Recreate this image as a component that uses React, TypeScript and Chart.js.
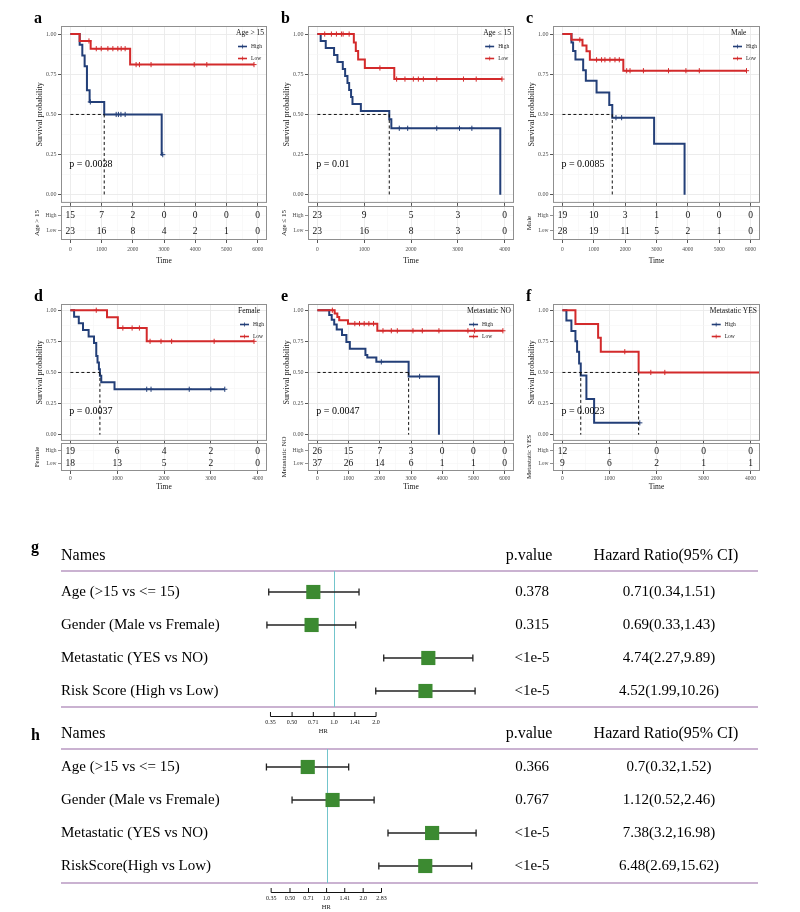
import React, { useEffect, useRef } from 'react';
import { Chart, registerables } from 'chart.js';

Chart.register(...registerables);

const SERIF = '"Liberation Serif", "Times New Roman", Times, serif';
const BLUE = '#233F78';
const RED = '#D32A2B';
const GREEN = '#3C8A31';
const TEAL = '#73C5CC';
const PURPLE = '#B899C2';
const GRID_MAJOR = '#EAEAEA';
const GRID_MINOR = '#F5F5F5';
const BORDER = '#8F8F8F';

// ---------- shared tick labels ----------
const X6000 = [0, 1000, 2000, 3000, 4000, 5000, 6000];
const X4000 = [0, 1000, 2000, 3000, 4000];
const Y_TICKS = [0, 0.25, 0.5, 0.75, 1];
const Y_TICK_LABELS = ['0.00', '0.25', '0.50', '0.75', '1.00'];
const RISK_ROWS = ['High', 'Low'];
const PVAL_Y = 0.19;

// ---------- a : Age > 15 ----------
const aHighTimes = [0, 298, 383, 457, 532, 617, 1085, 2926];
const aHighSurv = [1, 0.933, 0.867, 0.8, 0.65, 0.578, 0.5, 0.25];
const aHighCensor = [640, 1468, 1540, 1620, 1755, 2960];
const aLowTimes = [0, 298, 650, 1915];
const aLowSurv = [1, 0.957, 0.909, 0.81];
const aLowCensor = [596, 830, 989, 1202, 1362, 1521, 1628, 1755, 2106, 2213, 2585, 3968, 4372, 5883];
const aMedians = [1085];
const aRiskHigh = [15, 7, 2, 0, 0, 0, 0];
const aRiskLow = [23, 16, 8, 4, 2, 1, 0];

// ---------- b : Age <= 15 ----------
const bHighTimes = [0, 71, 179, 357, 429, 543, 593, 643, 679, 720, 750, 929, 1536, 1580, 3907];
const bHighSurv = [1, 0.957, 0.913, 0.87, 0.826, 0.783, 0.739, 0.696, 0.652, 0.609, 0.565, 0.522, 0.47, 0.414, 0];
const bHighCensor = [1750, 1929, 2550, 3036, 3300];
const bLowTimes = [0, 779, 821, 871, 1014, 1643];
const bLowSurv = [1, 0.947, 0.895, 0.842, 0.789, 0.72];
const bLowCensor = [157, 300, 407, 514, 550, 679, 1336, 1693, 1871, 2050, 2157, 2264, 2550, 3121, 3393, 3943];
const bMedians = [1536];
const bRiskHigh = [23, 9, 5, 3, 0];
const bRiskLow = [23, 16, 8, 3, 0];

// ---------- c : Male ----------
const cHighTimes = [0, 288, 341, 416, 662, 747, 1089, 1494, 1590, 2924, 3895];
const cHighSurv = [1, 0.947, 0.895, 0.842, 0.775, 0.709, 0.637, 0.558, 0.48, 0.318, 0];
const cHighCensor = [1708, 1889];
const cLowTimes = [0, 288, 640, 768, 875, 1942];
const cLowSurv = [1, 0.964, 0.929, 0.893, 0.84, 0.772];
const cLowCensor = [555, 1089, 1249, 1355, 1515, 1676, 1814, 2049, 2156, 2583, 3383, 3938, 4365, 5870];
const cMedians = [1590];
const cRiskHigh = [19, 10, 3, 1, 0, 0, 0];
const cRiskLow = [28, 19, 11, 5, 2, 1, 0];

// ---------- d : Female ----------
const dHighTimes = [0, 80, 180, 270, 390, 505, 553, 580, 610, 631, 660, 943];
const dHighSurv = [1, 0.947, 0.895, 0.842, 0.789, 0.737, 0.632, 0.579, 0.526, 0.474, 0.421, 0.365];
const dHighCensor = [1631, 1723, 2539, 3000, 3298];
const dLowTimes = [0, 783, 1014, 1631];
const dLowSurv = [1, 0.944, 0.857, 0.75];
const dLowCensor = [553, 1121, 1319, 1475, 1702, 1936, 2163, 3071, 3922];
const dMedians = [631];
const dRiskHigh = [19, 6, 4, 2, 0];
const dRiskLow = [18, 13, 5, 2, 0];

// ---------- e : Metastatic NO ----------
const eHighTimes = [0, 380, 460, 540, 620, 790, 930, 1040, 1540, 1600, 1890, 2924, 3895];
const eHighSurv = [1, 0.962, 0.923, 0.885, 0.846, 0.8, 0.745, 0.69, 0.64, 0.62, 0.585, 0.468, 0];
const eHighCensor = [2049, 3276];
const eLowTimes = [0, 555, 640, 700, 982, 1921];
const eLowSurv = [1, 0.973, 0.946, 0.919, 0.892, 0.835];
const eLowCensor = [480, 1200, 1350, 1500, 1650, 1800, 2102, 2369, 2561, 3063, 3362, 3895, 4824, 5037, 5944];
const eMedians = [2924];
const eRiskHigh = [26, 15, 7, 3, 0, 0, 0];
const eRiskLow = [37, 26, 14, 6, 1, 1, 0];

// ---------- f : Metastatic YES ----------
const fHighTimes = [0, 85, 191, 277, 312, 355, 390, 510, 674];
const fHighSurv = [1, 0.917, 0.833, 0.75, 0.667, 0.571, 0.476, 0.286, 0.095];
const fHighCensor = [1645];
const fLowTimes = [0, 277, 759, 816, 1620];
const fLowSurv = [1, 0.889, 0.778, 0.667, 0.5];
const fLowCensor = [1326, 1879, 2177, 4199];
const fMedians = [390, 1620];
const fRiskHigh = [12, 1, 0, 0, 0];
const fRiskLow = [9, 6, 2, 1, 1];

// ---------- g : univariate forest ----------
const gNames = ['Age (>15 vs <= 15)', 'Gender (Male vs Fremale)', 'Metastatic (YES vs NO)', 'Risk Score (High vs Low)'];
const gPValues = ['0.378', '0.315', '<1e-5', '<1e-5'];
const gHR = [0.71, 0.69, 4.74, 4.52];
const gLower = [0.34, 0.33, 2.27, 1.99];
const gUpper = [1.51, 1.43, 9.89, 10.26];
const gAxisTicks = [0.35, 0.5, 0.71, 1.0, 1.41, 2.0];
const gAxisLabels = ['0.35', '0.50', '0.71', '1.0', '1.41', '2.0'];

// ---------- h : multivariate forest ----------
const hNames = ['Age (>15 vs <= 15)', 'Gender (Male vs Fremale)', 'Metastatic (YES vs NO)', 'RiskScore(High vs Low)'];
const hPValues = ['0.366', '0.767', '<1e-5', '<1e-5'];
const hHR = [0.7, 1.12, 7.38, 6.48];
const hLower = [0.32, 0.52, 3.2, 2.69];
const hUpper = [1.52, 2.46, 16.98, 15.62];
const hAxisTicks = [0.35, 0.5, 0.71, 1.0, 1.41, 2.0, 2.83];
const hAxisLabels = ['0.35', '0.50', '0.71', '1.0', '1.41', '2.0', '2.83'];

// ---------- types / layout ----------
type Curve = { times: number[]; surv: number[]; censor: number[] };
type Panel = {
  letter: string; group: string; pval: string; xTicks: number[];
  high: Curve; low: Curve; medians: number[];
  riskHigh: number[]; riskLow: number[]; col: number; row: number;
};

const COLS = [{ l: 61, r: 267 }, { l: 308, r: 514 }, { l: 553, r: 760 }];
const ROWS = [
  { top: 26, bottom: 203, riskTop: 206, riskBottom: 240, labelPad: 3, timeDy: 21 },
  { top: 304, bottom: 441, riskTop: 443, riskBottom: 471, labelPad: 1, timeDy: 16 },
];

const PANELS: Panel[] = [
  { letter: 'a', group: 'Age > 15', pval: 'p = 0.0038', xTicks: X6000,
    high: { times: aHighTimes, surv: aHighSurv, censor: aHighCensor },
    low: { times: aLowTimes, surv: aLowSurv, censor: aLowCensor },
    medians: aMedians, riskHigh: aRiskHigh, riskLow: aRiskLow, col: 0, row: 0 },
  { letter: 'b', group: 'Age \u2264 15', pval: 'p = 0.01', xTicks: X4000,
    high: { times: bHighTimes, surv: bHighSurv, censor: bHighCensor },
    low: { times: bLowTimes, surv: bLowSurv, censor: bLowCensor },
    medians: bMedians, riskHigh: bRiskHigh, riskLow: bRiskLow, col: 1, row: 0 },
  { letter: 'c', group: 'Male', pval: 'p = 0.0085', xTicks: X6000,
    high: { times: cHighTimes, surv: cHighSurv, censor: cHighCensor },
    low: { times: cLowTimes, surv: cLowSurv, censor: cLowCensor },
    medians: cMedians, riskHigh: cRiskHigh, riskLow: cRiskLow, col: 2, row: 0 },
  { letter: 'd', group: 'Female', pval: 'p = 0.0037', xTicks: X4000,
    high: { times: dHighTimes, surv: dHighSurv, censor: dHighCensor },
    low: { times: dLowTimes, surv: dLowSurv, censor: dLowCensor },
    medians: dMedians, riskHigh: dRiskHigh, riskLow: dRiskLow, col: 0, row: 1 },
  { letter: 'e', group: 'Metastatic NO', pval: 'p = 0.0047', xTicks: X6000,
    high: { times: eHighTimes, surv: eHighSurv, censor: eHighCensor },
    low: { times: eLowTimes, surv: eLowSurv, censor: eLowCensor },
    medians: eMedians, riskHigh: eRiskHigh, riskLow: eRiskLow, col: 1, row: 1 },
  { letter: 'f', group: 'Metastatic YES', pval: 'p = 0.0023', xTicks: X4000,
    high: { times: fHighTimes, surv: fHighSurv, censor: fHighCensor },
    low: { times: fLowTimes, surv: fLowSurv, censor: fLowCensor },
    medians: fMedians, riskHigh: fRiskHigh, riskLow: fRiskLow, col: 2, row: 1 },
];

type Forest = {
  letter: string; names: string[]; pvals: string[]; hr: number[]; lo: number[]; hi: number[];
  ticks: number[]; tickLabels: string[];
  top: number; height: number; padTop: number; padBottom: number;
  xMin: number; xMax: number; yMin: number; yMax: number; letterDy: number;
};

const FOREST_G: Forest = {
  letter: 'g', names: gNames, pvals: gPValues, hr: gHR, lo: gLower, hi: gUpper,
  ticks: gAxisTicks, tickLabels: gAxisLabels,
  top: 540, height: 197, padTop: 31, padBottom: 30,
  xMin: 0.2116, xMax: 15.48, yMin: -0.636, yMax: 3.485, letterDy: -19,
};
const FOREST_H: Forest = {
  letter: 'h', names: hNames, pvals: hPValues, hr: hHR, lo: hLower, hi: hUpper,
  ticks: hAxisTicks, tickLabels: hAxisLabels,
  top: 715, height: 197, padTop: 34, padBottom: 29,
  xMin: 0.194, xMax: 26.7, yMin: -0.545, yMax: 3.515, letterDy: -9,
};

// ---------- helpers ----------
const midpoints = (a: number[]) => a.slice(1).map((v, i) => (v + a[i]) / 2);

function survAt(c: Curve, t: number) {
  let v = 1;
  for (let i = 0; i < c.times.length; i++) if (c.times[i] <= t) v = c.surv[i];
  return v;
}

function stepData(c: Curve) {
  const pts = c.times.map((t, i) => ({ x: t, y: c.surv[i] }));
  const lastT = c.times[c.times.length - 1];
  const end = Math.max(lastT, ...c.censor);
  if (end > lastT) pts.push({ x: end, y: c.surv[c.surv.length - 1] });
  return pts;
}

const lineDs = (c: Curve, color: string) => ({
  data: stepData(c), borderColor: color, borderWidth: 2, stepped: 'before', pointRadius: 0, fill: false,
});
const censorDs = (c: Curve, color: string) => ({
  data: c.censor.map((t) => ({ x: t, y: survAt(c, t) })), showLine: false,
  pointStyle: 'cross', pointRadius: 2.6, pointBorderWidth: 1,
  pointBorderColor: color, borderColor: color, backgroundColor: color,
});
const dashDs = (pts: { x: number; y: number }[]) => ({
  data: pts, borderColor: '#111', borderWidth: 1, borderDash: [3, 2.5], pointRadius: 0, fill: false,
});

function line(ctx: CanvasRenderingContext2D, x1: number, y1: number, x2: number, y2: number) {
  ctx.beginPath(); ctx.moveTo(x1, y1); ctx.lineTo(x2, y2); ctx.stroke();
}

function xScaleOpts(p: Panel, showLabels: boolean, height: number, labelPad: number) {
  const xMaxTick = p.xTicks[p.xTicks.length - 1];
  const all = [...p.xTicks, ...midpoints(p.xTicks)].sort((a, b) => a - b);
  const major = (v: any) => p.xTicks.includes(v);
  return {
    type: 'linear', min: -0.05 * xMaxTick, max: 1.05 * xMaxTick, bounds: 'data',
    afterBuildTicks: (s: any) => { s.ticks = all.map((v) => ({ value: v })); },
    afterFit: (s: any) => { s.height = height; },
    ticks: {
      display: showLabels, autoSkip: false, maxRotation: 0, padding: labelPad,
      font: { family: SERIF, size: 5.5 }, color: '#4d4d4d',
      callback: (v: any) => (major(v) ? String(v) : ''),
    },
    grid: {
      color: (c: any) => (c.tick && major(c.tick.value) ? GRID_MAJOR : GRID_MINOR),
      lineWidth: (c: any) => (c.tick && major(c.tick.value) ? 0.9 : 0.6),
      tickLength: 3,
      tickColor: (c: any) => (c.tick && major(c.tick.value) ? '#444' : 'rgba(0,0,0,0)'),
    },
    border: { display: false },
  };
}

function kmPlugin(p: Panel) {
  return {
    id: 'km-' + p.letter,
    afterDraw(chart: any) {
      const { ctx, chartArea: ca, scales } = chart;
      const x = scales.x, y = scales.y;
      ctx.save();
      ctx.strokeStyle = BORDER; ctx.lineWidth = 1;
      ctx.strokeRect(ca.left + 0.5, ca.top + 0.5, ca.right - ca.left - 1, ca.bottom - ca.top - 1);
      // y title
      ctx.save();
      ctx.translate(ca.left - 21, (ca.top + ca.bottom) / 2);
      ctx.rotate(-Math.PI / 2);
      ctx.font = `8px ${SERIF}`; ctx.fillStyle = '#1a1a1a';
      ctx.textAlign = 'center'; ctx.textBaseline = 'middle';
      ctx.fillText('Survival probability', 0, 0);
      ctx.restore();
      // panel letter
      ctx.font = `bold 16px ${SERIF}`; ctx.fillStyle = '#000';
      ctx.textAlign = 'left'; ctx.textBaseline = 'alphabetic';
      ctx.fillText(p.letter, ca.left - 27, ca.top - 3);
      // p value
      ctx.font = `10px ${SERIF}`; ctx.textBaseline = 'middle';
      ctx.fillText(p.pval, x.getPixelForValue(0) - 1, y.getPixelForValue(PVAL_Y));
      // legend
      ctx.font = `7.5px ${SERIF}`;
      const tw = ctx.measureText(p.group).width;
      ctx.font = `5.5px ${SERIF}`;
      const iw = 15 + ctx.measureText('High').width;
      const left = ca.right - 3 - Math.max(tw, iw);
      ctx.font = `7.5px ${SERIF}`; ctx.fillStyle = '#111';
      ctx.fillText(p.group, left, ca.top + 7.5);
      const items: [string, string, number][] = [[RISK_ROWS[0], BLUE, 20.5], [RISK_ROWS[1], RED, 32.5]];
      items.forEach(([lab, col, dy]) => {
        const yy = ca.top + dy;
        ctx.strokeStyle = col; ctx.lineWidth = 1.6;
        line(ctx, left + 2, yy, left + 11, yy);
        ctx.lineWidth = 0.8;
        line(ctx, left + 6.5, yy - 2, left + 6.5, yy + 2);
        ctx.font = `5.5px ${SERIF}`; ctx.fillStyle = '#222';
        ctx.fillText(lab, left + 15, yy);
      });
      ctx.restore();
    },
  };
}

function kmConfig(p: Panel): any {
  const maxMed = Math.max(...p.medians);
  const yAll = [...Y_TICKS, ...midpoints(Y_TICKS)].sort((a, b) => a - b);
  const majorY = (v: any) => Y_TICKS.includes(v);
  const datasets: any[] = [
    dashDs([{ x: 0, y: 0.5 }, { x: maxMed, y: 0.5 }]),
    ...p.medians.map((m) => dashDs([{ x: m, y: 0.5 }, { x: m, y: 0 }])),
    lineDs(p.low, RED), censorDs(p.low, RED),
    lineDs(p.high, BLUE), censorDs(p.high, BLUE),
  ];
  return {
    type: 'line',
    data: { datasets },
    options: {
      animation: false, responsive: false, events: [],
      layout: { padding: { left: 4, right: 6, top: 24, bottom: 1 } },
      plugins: { legend: { display: false }, tooltip: { enabled: false } },
      scales: {
        x: xScaleOpts(p, false, 4, 0),
        y: {
          type: 'linear', min: -0.05, max: 1.05, bounds: 'data',
          afterBuildTicks: (s: any) => { s.ticks = yAll.map((v) => ({ value: v })); },
          afterFit: (s: any) => { s.width = 40; },
          ticks: {
            autoSkip: false, padding: 1.5, font: { family: SERIF, size: 6 }, color: '#4d4d4d',
            callback: (v: any) => { const i = Y_TICKS.indexOf(v); return i >= 0 ? Y_TICK_LABELS[i] : ''; },
          },
          grid: {
            color: (c: any) => (c.tick && majorY(c.tick.value) ? GRID_MAJOR : GRID_MINOR),
            lineWidth: (c: any) => (c.tick && majorY(c.tick.value) ? 0.9 : 0.6),
            tickLength: 3,
            tickColor: (c: any) => (c.tick && majorY(c.tick.value) ? '#444' : 'rgba(0,0,0,0)'),
          },
          border: { display: false },
        },
      },
    },
    plugins: [kmPlugin(p)],
  };
}

function riskPlugin(p: Panel, timeDy: number) {
  return {
    id: 'risk-' + p.letter,
    afterDraw(chart: any) {
      const { ctx, chartArea: ca } = chart;
      ctx.save();
      ctx.strokeStyle = BORDER; ctx.lineWidth = 1;
      ctx.strokeRect(ca.left + 0.5, ca.top + 0.5, ca.right - ca.left - 1, ca.bottom - ca.top - 1);
      ctx.font = `9.5px ${SERIF}`; ctx.fillStyle = '#111';
      ctx.textAlign = 'center'; ctx.textBaseline = 'middle';
      chart.data.datasets.forEach((ds: any, di: number) => {
        const meta = chart.getDatasetMeta(di);
        meta.data.forEach((el: any, i: number) => ctx.fillText(String(ds.data[i].n), el.x, el.y + 0.5));
      });
      ctx.font = `7.5px ${SERIF}`; ctx.fillStyle = '#111';
      ctx.fillText('Time', (ca.left + ca.right) / 2, ca.bottom + timeDy);
      ctx.save();
      ctx.translate(ca.left - 24, (ca.top + ca.bottom) / 2);
      ctx.rotate(-Math.PI / 2);
      ctx.font = `7px ${SERIF}`; ctx.fillStyle = '#1a1a1a';
      ctx.fillText(p.group, 0, 0);
      ctx.restore();
      ctx.restore();
    },
  };
}

function riskConfig(p: Panel): any {
  const r = ROWS[p.row];
  return {
    type: 'scatter',
    data: {
      datasets: [
        { data: p.xTicks.map((t, i) => ({ x: t, y: 2, n: p.riskHigh[i] })), pointRadius: 0 },
        { data: p.xTicks.map((t, i) => ({ x: t, y: 1, n: p.riskLow[i] })), pointRadius: 0 },
      ],
    },
    options: {
      animation: false, responsive: false, events: [],
      layout: { padding: { left: 4, right: 6, top: 24, bottom: 2 } },
      plugins: { legend: { display: false }, tooltip: { enabled: false } },
      scales: {
        x: xScaleOpts(p, true, r.timeDy + 6, r.labelPad),
        y: {
          type: 'linear', min: 0.4, max: 2.6, bounds: 'data',
          afterBuildTicks: (s: any) => { s.ticks = [{ value: 1 }, { value: 2 }]; },
          afterFit: (s: any) => { s.width = 40; },
          ticks: {
            autoSkip: false, padding: 1.5, font: { family: SERIF, size: 5.5 }, color: '#4d4d4d',
            callback: (v: any) => (v === 2 ? RISK_ROWS[0] : RISK_ROWS[1]),
          },
          grid: { color: GRID_MINOR, lineWidth: 0.6, tickLength: 3, tickColor: '#444' },
          border: { display: false },
        },
      },
    },
    plugins: [riskPlugin(p, r.timeDy)],
  };
}

function forestPlugin(f: Forest) {
  return {
    id: 'forest-' + f.letter,
    beforeDatasetsDraw(chart: any) {
      const { ctx, chartArea: ca, scales } = chart;
      const x = scales.x, y = scales.y;
      ctx.save();
      ctx.fillStyle = '#000';
      ctx.font = `bold 16px ${SERIF}`; ctx.textAlign = 'left'; ctx.textBaseline = 'alphabetic';
      ctx.fillText(f.letter, 31, ca.top + f.letterDy);
      ctx.font = `16px ${SERIF}`; ctx.textBaseline = 'middle';
      ctx.fillText('Names', 61, ca.top - 15);
      ctx.textAlign = 'center';
      ctx.fillText('p.value', 529, ca.top - 15);
      ctx.fillText('Hazard Ratio(95% CI)', 666, ca.top - 15);
      ctx.strokeStyle = PURPLE; ctx.lineWidth = 1.6;
      line(ctx, 61, ca.top, 758, ca.top);
      line(ctx, 61, ca.bottom, 758, ca.bottom);
      const x1 = Math.round(x.getPixelForValue(1)) + 0.5;
      ctx.strokeStyle = TEAL; ctx.lineWidth = 1;
      line(ctx, x1, ca.top, x1, ca.bottom);
      f.names.forEach((name, i) => {
        const yy = y.getPixelForValue(i);
        ctx.fillStyle = '#000'; ctx.font = `15px ${SERIF}`; ctx.textBaseline = 'middle';
        ctx.textAlign = 'left'; ctx.fillText(name, 61, yy);
        ctx.textAlign = 'center';
        ctx.fillText(f.pvals[i], 532, yy);
        ctx.fillText(`${f.hr[i]}(${f.lo[i]},${f.hi[i]})`, 669, yy);
        const xl = x.getPixelForValue(f.lo[i]);
        const xh = x.getPixelForValue(f.hi[i]);
        ctx.strokeStyle = '#222'; ctx.lineWidth = 1.3;
        line(ctx, xl, yy, xh, yy);
        line(ctx, xl, yy - 3.5, xl, yy + 3.5);
        line(ctx, xh, yy - 3.5, xh, yy + 3.5);
      });
      const ax0 = x.getPixelForValue(f.ticks[0]);
      const ax1 = x.getPixelForValue(f.ticks[f.ticks.length - 1]);
      const ay = ca.bottom + 9.5;
      ctx.strokeStyle = '#111'; ctx.lineWidth = 1;
      line(ctx, ax0, ay, ax1, ay);
      ctx.font = `6px ${SERIF}`; ctx.fillStyle = '#111'; ctx.textAlign = 'center';
      f.ticks.forEach((t, i) => {
        const tx = x.getPixelForValue(t);
        line(ctx, tx, ay - 4.5, tx, ay);
        ctx.fillText(f.tickLabels[i], tx, ca.bottom + 15.5);
      });
      ctx.font = `6.5px ${SERIF}`;
      ctx.fillText('HR', (ax0 + ax1) / 2, ca.bottom + 24.5);
      ctx.restore();
    },
  };
}

function forestConfig(f: Forest): any {
  return {
    type: 'scatter',
    data: {
      datasets: [{
        data: f.hr.map((v, i) => ({ x: v, y: i })),
        pointStyle: 'rect', pointRadius: 10, backgroundColor: GREEN, borderWidth: 0,
      }],
    },
    options: {
      animation: false, responsive: false, events: [],
      layout: { padding: { left: 240, right: 300, top: f.padTop, bottom: f.padBottom } },
      plugins: { legend: { display: false }, tooltip: { enabled: false } },
      scales: {
        x: { type: 'logarithmic', min: f.xMin, max: f.xMax, display: false },
        y: { type: 'linear', min: f.yMin, max: f.yMax, reverse: true, display: false },
      },
    },
    plugins: [forestPlugin(f)],
  };
}

function ChartCanvas({ left, top, width, height, make }: { left: number; top: number; width: number; height: number; make: () => any }) {
  const ref = useRef<HTMLCanvasElement | null>(null);
  useEffect(() => {
    if (!ref.current) return;
    const chart = new Chart(ref.current, make());
    return () => chart.destroy();
  }, []);
  return (
    <canvas ref={ref} width={width} height={height}
      style={{ position: 'absolute', left, top, width, height }} />
  );
}

export default function App() {
  return (
    <div style={{ position: 'absolute', left: 0, top: 0, width: 800, height: 912, background: '#fff', overflow: 'hidden' }}>
      {PANELS.map((p) => {
        const c = COLS[p.col];
        const r = ROWS[p.row];
        return (
          <React.Fragment key={p.letter}>
            <ChartCanvas left={c.l - 44} top={r.top - 24} width={c.r - c.l + 50} height={r.bottom - r.top + 29} make={() => kmConfig(p)} />
            <ChartCanvas left={c.l - 44} top={r.riskTop - 24} width={c.r - c.l + 50} height={r.riskBottom - r.riskTop + 24 + r.timeDy + 6 + 2} make={() => riskConfig(p)} />
          </React.Fragment>
        );
      })}
      <ChartCanvas left={0} top={FOREST_G.top} width={800} height={FOREST_G.height} make={() => forestConfig(FOREST_G)} />
      <ChartCanvas left={0} top={FOREST_H.top} width={800} height={FOREST_H.height} make={() => forestConfig(FOREST_H)} />
    </div>
  );
}
